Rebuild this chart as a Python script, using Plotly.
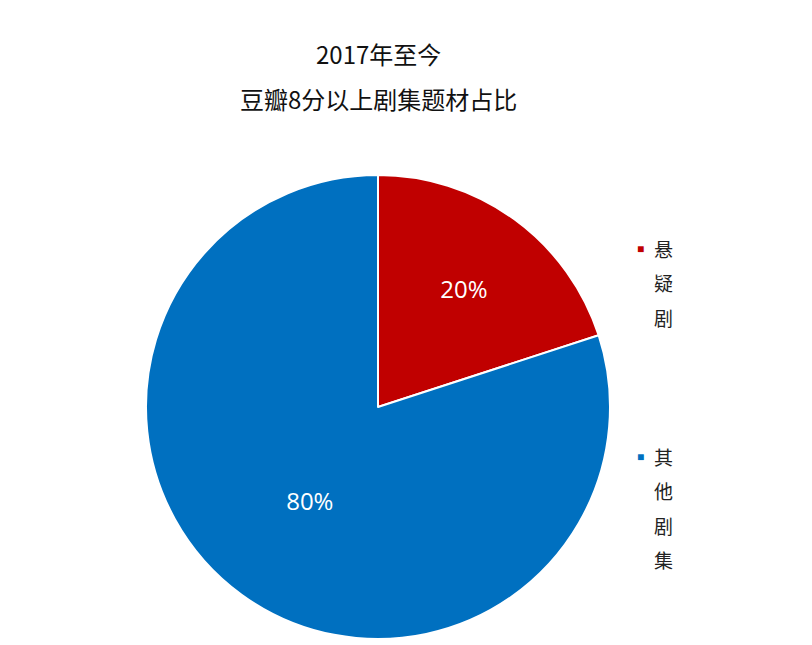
import plotly.graph_objects as go

labels = ["悬疑剧", "其他剧集"]
values = [20, 80]
colors = ["#C00000", "#0070C0"]
title_lines = ["2017年至今", "豆瓣8分以上剧集题材占比"]

fig = go.Figure(go.Pie(
    labels=labels, values=values, sort=False, direction="clockwise", rotation=0,
    marker=dict(colors=colors, line=dict(color="white", width=2)),
    texttemplate="%{percent:.0%}", textposition="inside",
    insidetextorientation="horizontal", showlegend=False,
    textfont=dict(color="white", size=24, family="Open Sans, Noto Sans CJK SC"),
    domain=dict(x=[138/812, 602/812], y=[14/645, 478/645]),
))
W, H = 812, 645
ann = []
for i, t in enumerate(title_lines):
    ann.append(dict(text=t, x=370/W, y=1-(45+45*i)/H, xref="paper", yref="paper",
                    showarrow=False, xanchor="center", yanchor="middle",
                    font=dict(size=24, color="#111", family="Noto Sans CJK SC")))
starts = [240, 448]
for lab, col, y0 in zip(labels, colors, starts):
    ann.append(dict(text="■", x=632/W, y=1-y0/H, xref="paper", yref="paper", showarrow=False,
                    xanchor="center", yanchor="middle", font=dict(size=12, color=col)))
    for j, ch in enumerate(lab):
        ann.append(dict(text=ch, x=655/W, y=1-(y0+34.5*j)/H, xref="paper", yref="paper",
                        showarrow=False, xanchor="center", yanchor="middle",
                        font=dict(size=19, color="#222", family="Noto Sans CJK SC")))
fig.update_layout(width=W, height=H, margin=dict(l=0, r=0, t=0, b=0),
                  paper_bgcolor="white", annotations=ann)
fig.write_html("out.html")
